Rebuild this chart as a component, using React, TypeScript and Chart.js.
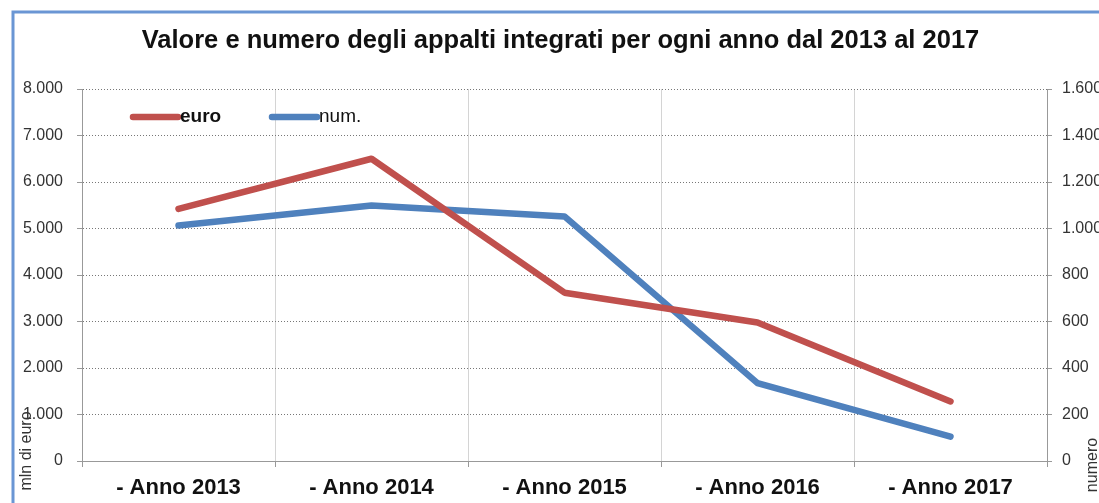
import React, { useEffect, useRef } from 'react';
import { Chart, registerables } from 'chart.js';

Chart.register(...registerables);

const TITLE = 'Valore e numero degli appalti integrati per ogni anno dal 2013 al 2017';
const categories = ['- Anno 2013', '- Anno 2014', '- Anno 2015', '- Anno 2016', '- Anno 2017'];
const euroValues = [5420, 6500, 3620, 2980, 1280];
const numValues = [1013, 1099, 1052, 335, 105];
const seriesLabels = ['euro', 'num.'];
const seriesColors = ['#c0504d', '#4f81bd'];
const leftAxisTitle = 'mln di euro';
const rightAxisTitle = 'numero';
const leftAxisMax = 8000;
const leftAxisStep = 1000;
const rightAxisMax = 1600;
const rightAxisStep = 200;

const FONT = '"Liberation Sans", Arial, sans-serif';

const fmt = (v: number) => String(Math.round(v)).replace(/\B(?=(\d{3})+(?!\d))/g, '.');

const decorPlugin = {
  id: 'decor',
  beforeDraw(chart: any) {
    const ctx = chart.ctx;
    ctx.save();
    ctx.fillStyle = '#ffffff';
    ctx.fillRect(0, 0, chart.width, chart.height);
    ctx.strokeStyle = '#6a96d4';
    ctx.lineWidth = 3;
    ctx.strokeRect(13, 12, 1300, 700);
    ctx.restore();
  },
  afterDraw(chart: any) {
    const ctx = chart.ctx;
    const area = chart.chartArea;
    ctx.save();
    // legend
    const ly = area.top + 28;
    let lx = area.left + 51;
    chart.data.datasets.forEach((ds: any, i: number) => {
      ctx.strokeStyle = ds.borderColor;
      ctx.lineWidth = 6.5;
      ctx.lineCap = 'round';
      ctx.beginPath();
      ctx.moveTo(lx, ly);
      ctx.lineTo(lx + 45, ly);
      ctx.stroke();
      ctx.fillStyle = '#111';
      ctx.font = (i === 0 ? 'bold ' : '') + '19px ' + FONT;
      ctx.textBaseline = 'middle';
      ctx.textAlign = 'left';
      ctx.fillText(ds.label, lx + 47, ly);
      lx += 139;
    });
    // axis titles
    ctx.fillStyle = '#333';
    ctx.font = '16px ' + FONT;
    ctx.textAlign = 'center';
    ctx.textBaseline = 'middle';
    ctx.save();
    ctx.translate(27, 451);
    ctx.rotate(-Math.PI / 2);
    ctx.fillText(leftAxisTitle, 0, 0);
    ctx.restore();
    ctx.save();
    ctx.translate(1093, 465);
    ctx.rotate(-Math.PI / 2);
    ctx.fillText(rightAxisTitle, 0, 0);
    ctx.restore();
    ctx.restore();
  },
};

export default function App() {
  const ref = useRef<HTMLCanvasElement | null>(null);
  useEffect(() => {
    if (!ref.current) return;
    const chart = new Chart(ref.current, {
      type: 'line',
      data: {
        labels: categories,
        datasets: [
          {
            label: seriesLabels[0],
            data: euroValues,
            yAxisID: 'y',
            borderColor: seriesColors[0],
            backgroundColor: seriesColors[0],
            borderWidth: 6.5,
            borderCapStyle: 'round',
            borderJoinStyle: 'round',
            pointRadius: 0,
            tension: 0,
          },
          {
            label: seriesLabels[1],
            data: numValues,
            yAxisID: 'y1',
            borderColor: seriesColors[1],
            backgroundColor: seriesColors[1],
            borderWidth: 6.5,
            borderCapStyle: 'round',
            borderJoinStyle: 'round',
            pointRadius: 0,
            tension: 0,
          },
        ],
      },
      options: {
        responsive: false,
        animation: false,
        layout: { padding: { left: 22, right: 0, top: 0, bottom: 0 } },
        plugins: {
          legend: { display: false },
          tooltip: { enabled: false },
          title: {
            display: true,
            text: TITLE,
            color: '#111',
            font: { family: FONT, size: 25.5, weight: 'bold', lineHeight: 1.2 },
            padding: { top: 25.5, bottom: 32.9 },
          },
        },
        scales: {
          x: {
            offset: true,
            afterFit: (s: any) => { s.height = 42; },
            grid: { offset: true, color: '#d4d4d4', lineWidth: 1, tickLength: 6, tickColor: '#999' },
            border: { color: '#999', width: 1 },
            ticks: { color: '#111', font: { family: FONT, size: 22, weight: 'bold' }, padding: 8, maxRotation: 0, autoSkip: false },
          },
          y: {
            position: 'left',
            min: 0,
            max: leftAxisMax,
            afterFit: (s: any) => { s.width = 60; },
            grid: { color: '#777', lineWidth: 1, tickLength: 5, tickColor: '#999', tickBorderDash: [] },
            border: { color: '#999', width: 1, dash: [1, 2] },
            ticks: { stepSize: leftAxisStep, color: '#333', padding: 14, font: { family: FONT, size: 16 }, callback: (v: any) => fmt(Number(v)) },
          },
          y1: {
            position: 'right',
            min: 0,
            max: rightAxisMax,
            afterFit: (s: any) => { s.width = 52; },
            grid: { drawOnChartArea: false, tickLength: 5, tickColor: '#999', color: '#999' },
            border: { color: '#999', width: 1 },
            ticks: { stepSize: rightAxisStep, color: '#333', padding: 10, font: { family: FONT, size: 16 }, callback: (v: any) => fmt(Number(v)) },
          },
        },
      },
      plugins: [decorPlugin],
    } as any);
    return () => chart.destroy();
  }, []);
  return (
    <div style={{ position: 'absolute', left: 0, top: 0, width: 1099, height: 503, overflow: 'hidden' }}>
      <canvas ref={ref} width={1099} height={503} style={{ display: 'block' }} />
    </div>
  );
}
